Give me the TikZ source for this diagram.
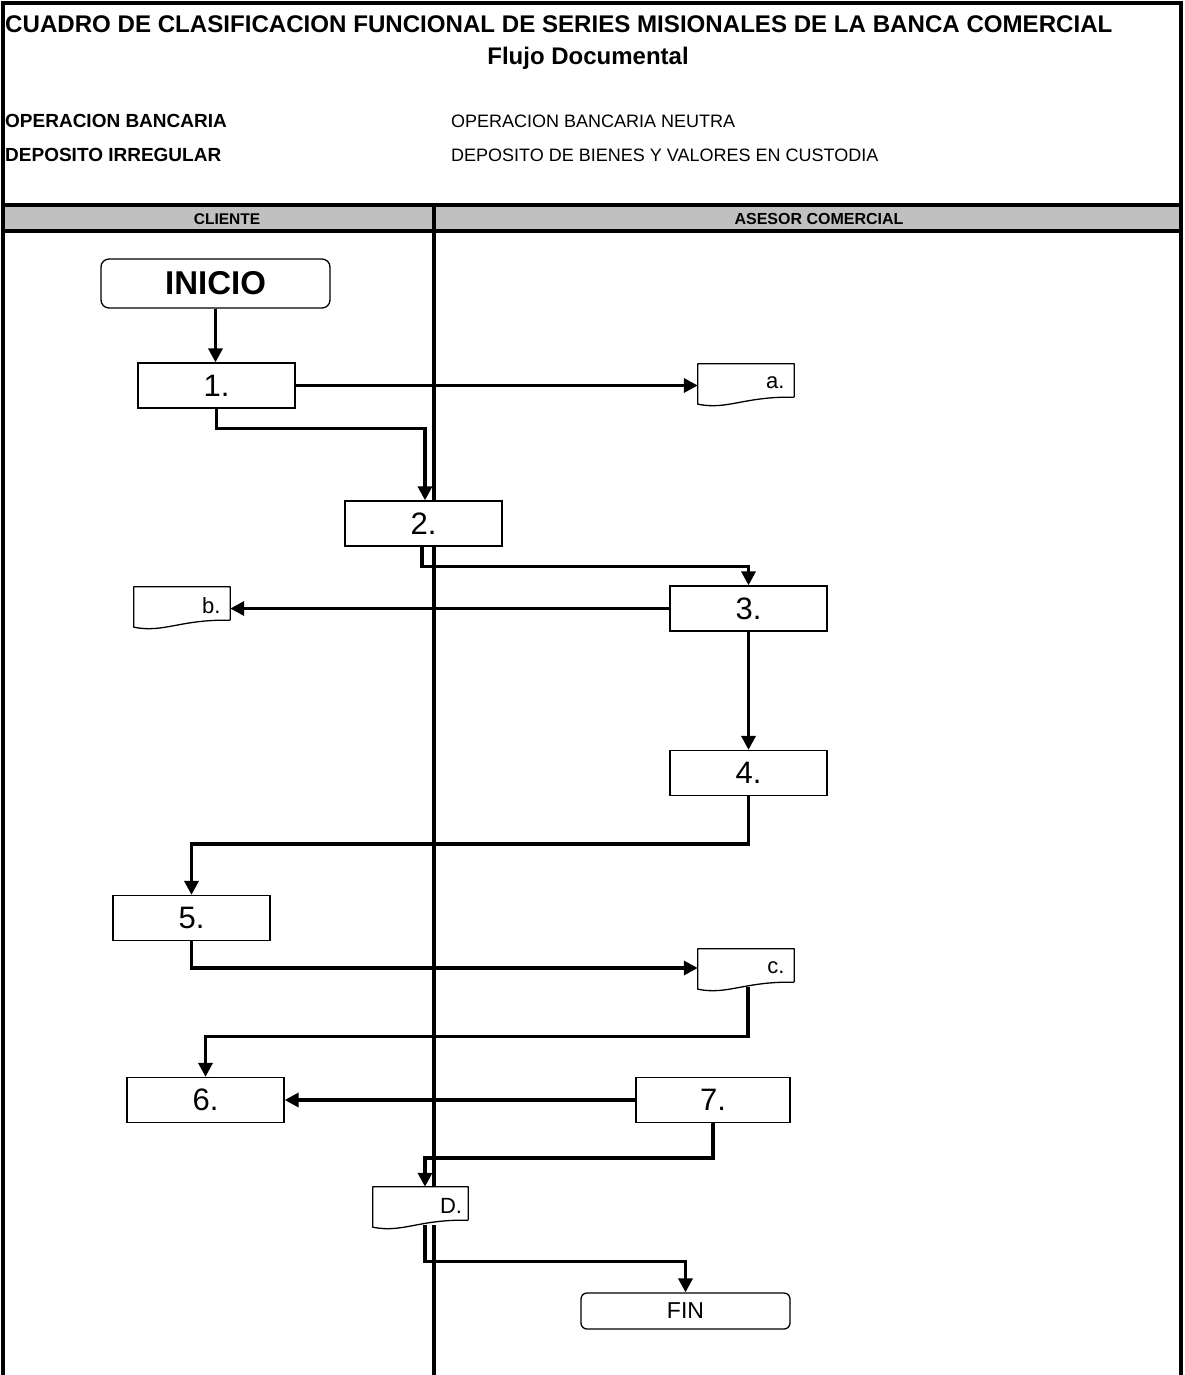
\documentclass[tikz,border=0pt]{standalone}
\usepackage{fontspec}
\setmainfont{Liberation Sans}
\usepackage{tikz}
\usetikzlibrary{arrows.meta, positioning, calc}
\definecolor{lanegray}{RGB}{192, 192, 192}

\newcommand{\fsz}[1]{\fontsize{#1}{#1}\selectfont}
% outline of a document symbol round a docu node
\newcommand{\docoutline}[1]{%
  \draw[line width=1.3pt, line join=round]
    ($(#1.south east)+(0,-5)$) -- (#1.north east) -- (#1.north west) -- ($(#1.south west)+(0,2)$)
    .. controls ($(#1.south west)+(30,8)$) and ($(#1.south east)+(-50,-6)$) .. ($(#1.south east)+(0,-5)$);}

\begin{document}
\begin{tikzpicture}[x=1pt, y=-1pt,
          frame/.style={line width=4pt},
          txt/.style={inner sep=0pt},
          stepbox/.style={rectangle, draw, fill=white, line width=1.3pt, minimum width=157pt, minimum height=45pt, inner sep=0pt, font=\fsz{31}},
          terminal/.style={rectangle, rounded corners=8pt, draw, fill=white, line width=1.3pt, inner sep=0pt},
          docu/.style={rectangle, fill=white, minimum height=38pt, text width=77pt, inner xsep=9.5pt, inner ysep=0pt, align=right, font=\fsz{22}},
          flow/.style={line width=3.4pt, -{Triangle[length=14pt, width=14pt]}}
        ]
          \useasboundingbox (0,0) rectangle (1184,1375);

          % Frame, header band and lanes
          \fill[lanegray] (3,205) rectangle (1181,231);
          \draw[frame] (3,1375) -- (3,3) -- (1181,3) -- (1181,1375);
          \draw[frame] (3,205) -- (1181,205);
          \draw[frame] (3,231) -- (1181,231);
          \draw[frame] (434,205) -- (434,1375);

          % Header texts
          \node[txt, anchor=west, font=\bfseries\fsz{24.1}] (title) at (5,24) {CUADRO DE CLASIFICACION FUNCIONAL DE SERIES MISIONALES DE LA BANCA COMERCIAL};
          \node[txt, font=\bfseries\fsz{24}] (subtitle) at (588,58) {Flujo Documental};
          \node[txt, anchor=west, font=\bfseries\fsz{19}] (oplabel) at (5,121) {OPERACION BANCARIA};
          \node[txt, anchor=west, font=\bfseries\fsz{19}] (deplabel) at (5,155) {DEPOSITO IRREGULAR};
          \node[txt, anchor=west, font=\fsz{18}] (opvalue) at (451,121) {OPERACION BANCARIA NEUTRA};
          \node[txt, anchor=west, font=\fsz{18}] (depvalue) at (451,155) {DEPOSITO DE BIENES Y VALORES EN CUSTODIA};
          \node[txt, font=\bfseries\fsz{15.5}] (cliente) at (227,219) {CLIENTE};
          \node[txt, font=\bfseries\fsz{16}] (asesor) at (819,219) {ASESOR COMERCIAL};

          % Steps
          \node[terminal, minimum width=229pt, minimum height=49pt, font=\bfseries\fsz{33}] (inicio) at (215.5,283.5) {INICIO};
          \node[stepbox] (n1) at (216.5,385.5) {1.};
          \node[docu] (da) at (746,383) {a.};
          \node[stepbox] (n2) at (423.5,523.5) {2.};
          \node[stepbox] (n3) at (748.5,608.5) {3.};
          \node[docu] (db) at (182,606) {b.};
          \node[stepbox] (n4) at (748.5,773) {4.};
          \node[stepbox] (n5) at (191.5,918) {5.};
          \node[docu] (dc) at (746,968) {c.};
          \node[stepbox] (n6) at (205.5,1100) {6.};
          \node[stepbox, minimum width=154pt] (n7) at (713,1100) {7.};
          \node[docu, text width=83pt, inner xsep=6pt] (dD) at (420.5,1206) {D.};
          \node[terminal, rounded corners=6pt, minimum width=209pt, minimum height=36pt, font=\fsz{23}] (fin) at (685.5,1311) {FIN};

          \docoutline{da}
          \docoutline{db}
          \docoutline{dc}
          \docoutline{dD}

          % Flow
          \draw[flow] (inicio.south) -- (inicio.south |- n1.north);
          \draw[flow] (n1.east) -- (n1.east -| da.west);
          \draw[flow] (n1.south) -- ++(0,20) -| ([xshift=1.5pt]n2.north);
          \draw[flow] ([xshift=-1.5pt]n2.south) -- ++(0,20) -| (n3.north);
          \draw[flow] (n3.west) -- (n3.west -| db.east);
          \draw[flow] (n3.south) -- (n4.north);
          \draw[flow] (n4.south) -- ++(0,48) -| (n5.north);
          \draw[flow] (n5.south) |- (dc.west);
          \draw[flow] ([xshift=2pt]dc.south) -- ++(0,49) -| (n6.north);
          \draw[flow] (n7.west) -- (n6.east);
          \draw[flow] (n7.south) -- ++(0,35) -| ([xshift=4.5pt]dD.north);
          \draw[flow] ([xshift=4.5pt]dD.south) -- ++(0,36) -| (fin.north);
        \end{tikzpicture}
\end{document}
